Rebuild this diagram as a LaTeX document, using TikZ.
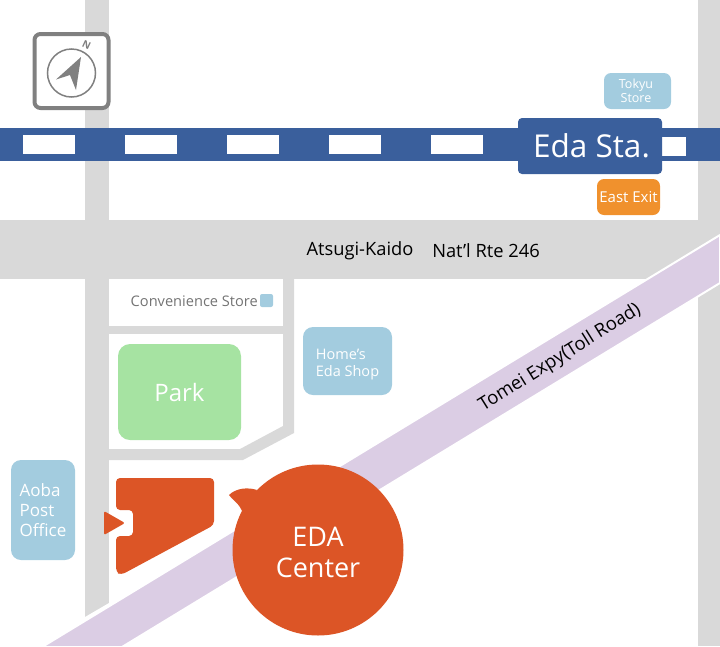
\documentclass[tikz,border=0pt]{standalone}
\usepackage{fontspec}
\setmainfont{Open Sans}
\definecolor{road}{HTML}{D9D9D9}
\definecolor{rail}{HTML}{3A5F9C}
\definecolor{expy}{HTML}{DBCDE4}
\definecolor{shop}{HTML}{A3CCDF}
\definecolor{park}{HTML}{A6E3A2}
\definecolor{eda}{HTML}{DC5526}
\definecolor{exit}{HTML}{F0912D}
\definecolor{dialgrey}{HTML}{808080}
\begin{document}
\begin{tikzpicture}[x=1pt,y=-1pt,
  place/.style = {rounded corners=7pt,text=white,align=center,inner sep=0pt},
  shopbox/.style = {place,fill=shop},
  gap/.style = {fill=white,minimum width=52pt,minimum height=19pt,inner sep=0pt},
  lbl/.style = {inner sep=0pt,font=\fontsize{18.3}{20}\selectfont}]
\useasboundingbox (0,0) rectangle (720,646);
% roads
\fill[road] (85,0) rectangle (109,617);
\fill[road] (698,0) rectangle (720,646);
\fill[road] (0,220) rectangle (720,279);
\fill[road] (109,326) rectangle (283,334);
\fill[road] (283,279) -- (294,279) -- (294,433) -- (243,460) -- (109,460) -- (109,449) -- (240,449) -- (283,426) -- cycle;
\fill[white] (85,617) -- (109,603) -- (109,646) -- (85,646) -- cycle;
% expressway
\draw[white,line width=2pt,fill=expy] (42,647) -- (720,235) -- (720,283) -- (122,647) -- cycle;
\node[lbl,rotate=32,font=\fontsize{18.5}{20}\selectfont] (expyname) at (560,358) {Tomei Expy(Toll Road)};
% railway
\fill[rail] (0,128) rectangle (720,161);
\foreach \x [count=\i] in {49,151,253,355,457}
  \node[gap] (gap\i) at (\x,144.5) {};
\node[gap,minimum width=24pt] (gap6) at (674,146) {};
\node[place,fill=rail,rounded corners=4pt,minimum width=144pt,minimum height=56pt,font=\fontsize{31.5}{36}\selectfont] (station) at (590,146) {\kern3pt Eda Sta.};
\node[shopbox,minimum width=67pt,minimum height=36pt,font=\fontsize{12.5}{14}\selectfont] (tokyu) at (637.5,91) {Tokyu\kern3pt\\Store\kern3pt};
\node[place,fill=exit,minimum width=63pt,minimum height=36pt,font=\fontsize{15}{16}\selectfont] (eastexit) at (628.5,197) {East Exit};
% road names
\node[lbl] (kaido) at (360,251) {Atsugi-Kaido};
\node[lbl] (rte) at (486,251) {Nat’l Rte 246};
% compass
\node[draw=dialgrey,line width=4pt,fill=white,rounded corners=6pt,minimum width=74pt,minimum height=74pt,inner sep=0pt] (compass) at (71.5,71) {};
\node[draw=dialgrey,line width=1.5pt,circle,minimum size=48pt,inner sep=0pt] (dial) at (71.5,73) {};
\fill[dialgrey] (81,57) -- (56,79.5) -- (70,75) -- (76,90) -- cycle;
\node[text=dialgrey,rotate=-25,inner sep=0pt,font=\bfseries\fontsize{10}{10}\selectfont] (north) at (86.5,45) {N};
% places
\node[place,fill=park,rounded corners=12pt,minimum width=123pt,minimum height=96pt,font=\fontsize{24}{28}\selectfont] (park) at (179.5,392) {Park};
\node[shopbox,rounded corners=10pt,minimum width=89pt,minimum height=68pt,font=\fontsize{14.5}{17}\selectfont,align=left] (homes) at (347.5,361) {\rule{0pt}{17pt}Home's\\Eda Shop};
\node[shopbox,rounded corners=10pt,minimum width=64pt,minimum height=100pt,font=\fontsize{17}{20}\selectfont,align=left] (aoba) at (43,510) {Aoba\\Post\\Office};
\node[shopbox,rounded corners=2pt,minimum width=13pt,minimum height=13pt] (conbini) at (266.5,300.5) {};
\node[text=black!55,inner sep=0pt,anchor=east,font=\fontsize{14.6}{16}\selectfont] (conbininame) at (258,301) {Convenience Store};
% centre
\fill[eda,rounded corners=4pt] (116,478) -- (214,478) -- (214,525) -- (121,575) -- (116,572) -- (116,536) -- (133,536) -- (133,510) -- (116,510) -- cycle;
\fill[eda,rounded corners=2pt] (104,511) -- (125,523) -- (104,535) -- cycle;
\fill[eda] (257,490) .. controls (248,487) and (236,488) .. (229,495) .. controls (232,500) and (240,503) .. (243,514) -- cycle;
\node[circle,fill=eda,text=white,minimum size=171pt,inner sep=0pt,align=center,font=\fontsize{27}{31}\selectfont] (center) at (318,550) {\rule{0pt}{24pt}EDA\\Center};
\end{tikzpicture}
\end{document}
